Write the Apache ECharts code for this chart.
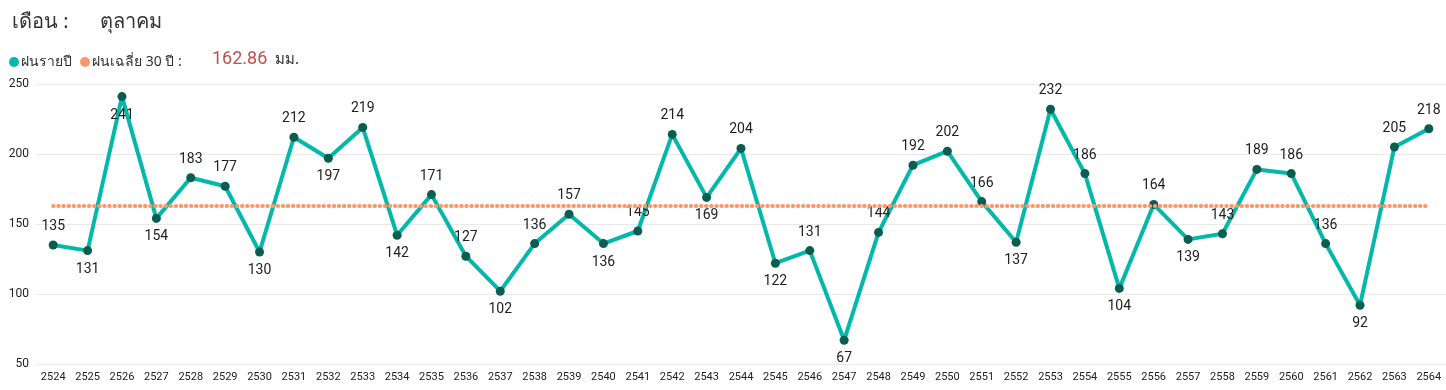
<!DOCTYPE html>
<html>
<head>
<meta charset="utf-8">
<script src="https://cdn.jsdelivr.net/npm/echarts@6/dist/echarts.min.js"></script>
<style>
html,body{margin:0;padding:0;background:#fff;}
#c{width:1446px;height:390px;}
</style>
</head>
<body>
<div id="c"></div>
<script>
var years = ['2524','2525','2526','2527','2528','2529','2530','2531','2532','2533','2534','2535','2536','2537','2538','2539','2540','2541','2542','2543','2544','2545','2546','2547','2548','2549','2550','2551','2552','2553','2554','2555','2556','2557','2558','2559','2560','2561','2562','2563','2564'];
var rainfall = [135,131,241,154,183,177,130,212,197,219,142,171,127,102,136,157,136,145,214,169,204,122,131,67,144,192,202,166,137,232,186,104,164,139,143,189,186,136,92,205,218];
var labelBelow = ['2525','2526','2527','2530','2532','2534','2537','2540','2543','2545','2547','2552','2555','2557','2562'];
var avg30 = 162.86;
var monthName = 'ตุลาคม';
var yTicks = [50,100,150,200,250];

var FONT = "'Noto Sans','DejaVu Sans',sans-serif";
var NUMFONT = "Roboto,'Noto Sans',sans-serif";

var seriesData = rainfall.map(function(v,i){
  var below = labelBelow.indexOf(years[i]) >= 0;
  return {value:v, label:{position: below ? 'bottom' : 'top'}};
});

var chart = echarts.init(document.getElementById('c'), null, {renderer:'canvas'});
chart.setOption({
  animation:false,
  backgroundColor:'#fff',
  title:{
    left:7, top:7,
    text:'{a|เดือน :}{b|' + monthName + '}',
    textStyle:{
      fontWeight:'normal',
      rich:{
        a:{fontSize:20, color:'#333', fontFamily:FONT, fontWeight:'normal', width:88},
        b:{fontSize:20, color:'#333', fontFamily:FONT, fontWeight:'normal'}
      }
    }
  },
  legend:{
    left:4, top:50,
    icon:'circle', itemWidth:10, itemHeight:10, itemGap:8,
    textStyle:{fontSize:14, color:'#333', fontFamily:FONT, padding:[0,0,0,-3]},
    data:[{name:'ฝนรายปี', itemStyle:{color:'#01B8AA'}}, {name:'ฝนเฉลี่ย 30 ปี :', itemStyle:{color:'#FE9666'}}],
    selectedMode:false
  },
  graphic:[
    {type:'text', left:212, top:50, style:{text: avg30.toFixed(2), fontSize:18, fill:'#C0504D', fontFamily:NUMFONT}},
    {type:'text', left:275, top:52, style:{text:'มม.', fontSize:15, fill:'#333', fontFamily:FONT}}
  ],
  grid:{left:36, right:0, top:84, bottom:26},
  xAxis:{
    type:'category', data:years, boundaryGap:true,
    axisLine:{show:false}, axisTick:{show:false},
    axisLabel:{fontSize:11, color:'#222', fontFamily:NUMFONT, margin:8, interval:0}
  },
  yAxis:{
    type:'value', min:yTicks[0], max:yTicks[yTicks.length-1], interval:50,
    axisLine:{show:false}, axisTick:{show:false},
    axisLabel:{fontSize:12, color:'#222', fontFamily:NUMFONT, margin:7},
    splitLine:{lineStyle:{color:'#e9e9e9', width:1}}
  },
  series:[
    {
      name:'ฝนรายปี', type:'line', data:seriesData,
      symbol:'circle', symbolSize:9,
      lineStyle:{color:'#01B8AA', width:4},
      itemStyle:{color:'#0B5E4F'},
      label:{show:true, fontSize:14, color:'#222', fontFamily:NUMFONT, distance:7},
      z:3,
      markLine:{
        silent:true, symbol:'none',
        label:{show:false},
        lineStyle:{color:'#FE9666', width:4, type:[0.5,4.6], cap:'round', opacity:1},
        data:[[{coord:[years[0], avg30]},{coord:[years[years.length-1], avg30]}]]
      }
    },
    {
      name:'ฝนเฉลี่ย 30 ปี :', type:'line', data:[],
      itemStyle:{color:'#FE9666'}
    }
  ]
});
</script>
</body>
</html>
